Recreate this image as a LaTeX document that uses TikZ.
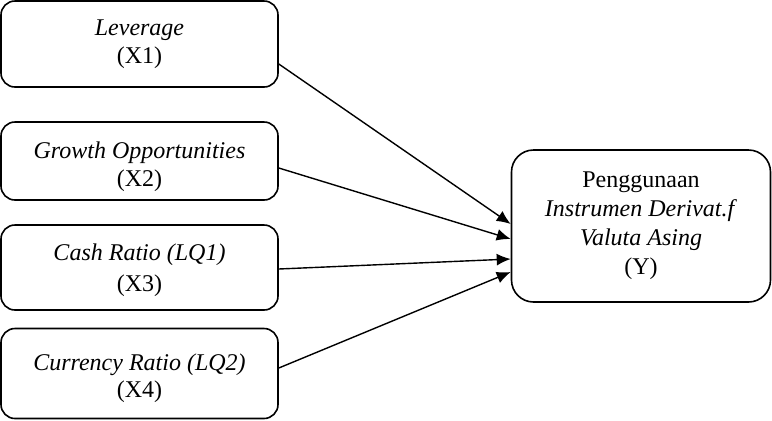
\documentclass[tikz,border=0pt]{standalone}
\usepackage{fontspec}
\setmainfont{Liberation Serif}
\usetikzlibrary{arrows.meta}
\newcommand{\lowertext}[2]{\raisebox{#1}[\height][\depth]{\begin{tabular}{@{}c@{}}#2\end{tabular}}}
\begin{document}
\begin{tikzpicture}[x=0.5pt,y=-0.5pt,
  box/.style={draw,line width=0.8pt,rounded corners=7pt,align=center,inner sep=0pt,
    font=\fontsize{12}{13.8}\selectfont},
  arr/.style={line width=0.7pt,-{Latex[length=7pt,width=6pt]}}]
\useasboundingbox (0,0) rectangle (772,420);
\node[box,minimum width=138.5pt,minimum height=43pt] (b1) at (139.5,44) {\textit{Leverage}\\(X1)};
\node[box,minimum width=138.5pt,minimum height=39pt] (b2) at (139.5,161)
  {\lowertext{-3pt}{\textit{Growth Opportunities}\\[0.5pt](X2)}};
\node[box,minimum width=138.5pt,minimum height=42.5pt] (b3) at (139.5,267.5)
  {\lowertext{-1.5pt}{\textit{Cash Ratio (LQ1)}\\[1.5pt](X3)}};
\node[box,minimum width=138.5pt,minimum height=45pt] (b4) at (139.5,373.5)
  {\lowertext{-2.5pt}{\textit{Currency Ratio (LQ2)}\\(X4)}};
\node[box,minimum width=129.5pt,minimum height=76pt,rounded corners=11pt,font=\fontsize{12}{14.5}\selectfont] (y) at (641,226)
  {Penggunaan\\\textit{Instrumen Derivat.f}\\\textit{Valuta Asing}\\(Y)};
\draw[arr] ([yshift=-10pt]b1.east) -- ([yshift=1pt]y.west);
\draw[arr] ([yshift=-3.5pt]b2.east) -- ([yshift=-6.5pt]y.west);
\draw[arr] ([yshift=-0.75pt]b3.east) -- ([yshift=-16.5pt]y.west);
\draw[arr] ([yshift=2.75pt]b4.east) -- ([yshift=-23pt]y.west);
\end{tikzpicture}
\end{document}
